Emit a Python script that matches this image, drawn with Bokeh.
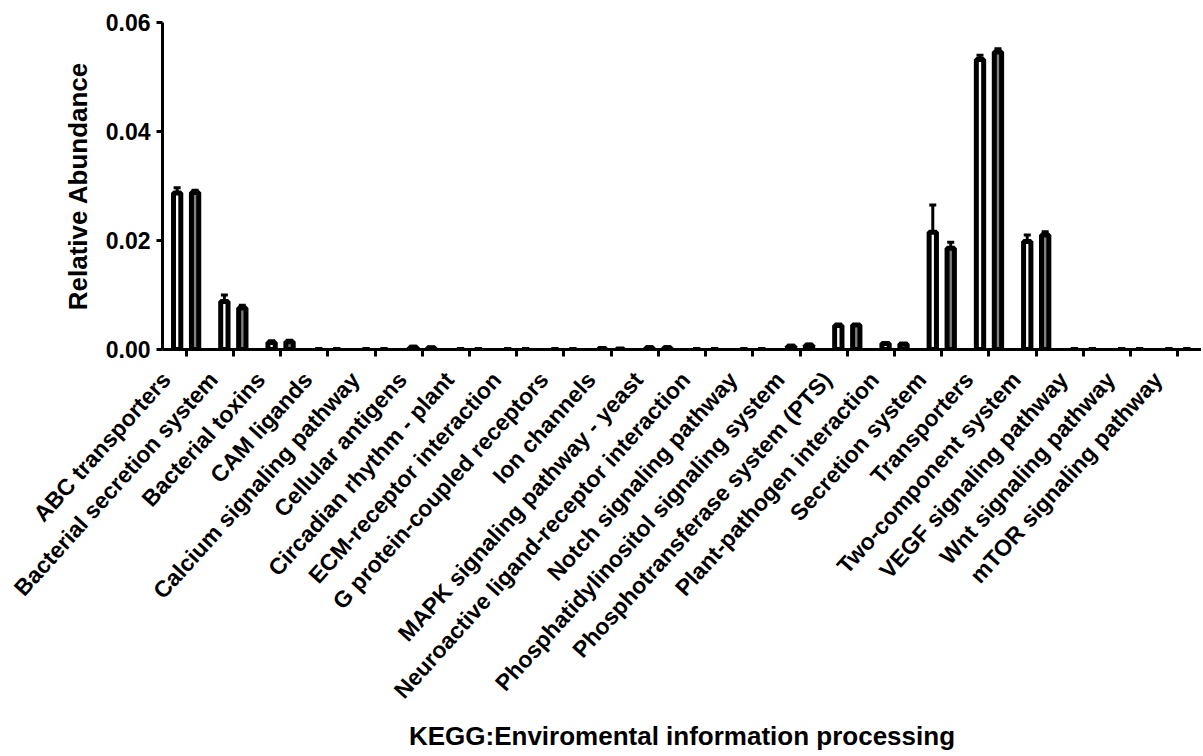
from bokeh.plotting import figure
from bokeh.models import (ColumnDataSource, FactorRange, Range1d, Whisker, TeeHead,
                          FixedTicker, NumeralTickFormatter, CustomLabelingPolicy, LinearAxis)
from bokeh.transform import dodge
from bokeh.embed import file_html
from bokeh.resources import INLINE

categories = [
    "ABC transporters", "Bacterial secretion system", "Bacterial toxins", "CAM ligands",
    "Calcium signaling pathway", "Cellular antigens", "Circadian rhythm - plant",
    "ECM-receptor interaction", "G protein-coupled receptors", "Ion channels",
    "MAPK signaling pathway - yeast", "Neuroactive ligand-receptor interaction",
    "Notch signaling pathway", "Phosphatidylinositol signaling system",
    "Phosphotransferase system (PTS)", "Plant-pathogen interaction", "Secretion system",
    "Transporters", "Two-component system", "VEGF signaling pathway",
    "Wnt signaling pathway", "mTOR signaling pathway",
]
group1 = [0.0287, 0.0088, 0.0013, 0.0, 0.0, 0.0004, 0.0, 0.0, 0.0, 0.0002,
          0.0003, 0.0, 0.0, 0.0006, 0.0044, 0.0011, 0.0215, 0.0532, 0.0198, 0.0, 0.0, 0.0]
group1_err = [0.0010, 0.0012, 0.0003, 0.0, 0.0, 0.0002, 0.0, 0.0, 0.0, 0.0001,
              0.0002, 0.0, 0.0, 0.0002, 0.0003, 0.0002, 0.0050, 0.0008, 0.0012, 0.0, 0.0, 0.0]
group2 = [0.0288, 0.0076, 0.0014, 0.0, 0.0, 0.0003, 0.0, 0.0, 0.0, 0.0001,
          0.0003, 0.0, 0.0, 0.0008, 0.0045, 0.0010, 0.0186, 0.0546, 0.0210, 0.0, 0.0, 0.0]
group2_err = [0.0004, 0.0005, 0.0003, 0.0, 0.0, 0.0001, 0.0, 0.0, 0.0, 0.0,
              0.0002, 0.0, 0.0, 0.0002, 0.0001, 0.0001, 0.0011, 0.0006, 0.0006, 0.0, 0.0, 0.0]
y_ticks = [0.0, 0.02, 0.04, 0.06]
x_title = "KEGG:Enviromental information processing"

FONT = "Liberation Sans"

LEFT, TOP, FRAME_W, FRAME_H = 162, 22, 1039, 327
UNIT = FRAME_W / len(categories)
LABEL_SHIFT_PX = 20   # slanted names end a little left of their tick

src = ColumnDataSource(dict(cat=categories, v1=group1, v2=group2))

p = figure(x_range=FactorRange(*categories), y_range=Range1d(0, 0.06),
           frame_width=FRAME_W, frame_height=FRAME_H,
           output_backend="svg", toolbar_location=None,
           min_border_left=LEFT, min_border_right=0, min_border_top=TOP,
           min_border_bottom=5)

bw = 0.155
off = 0.19
p.vbar(x=dodge("cat", -off, range=p.x_range), top="v1", width=bw, source=src,
       fill_color="white", line_color="black", line_width=5)
p.vbar(x=dodge("cat", off, range=p.x_range), top="v2", width=bw, source=src,
       fill_color="#808080", line_color="black", line_width=5)

for vals, errs, o in ((group1, group1_err, -off), (group2, group2_err, off)):
    idx = [i for i in range(len(categories)) if errs[i] > 0]
    es = ColumnDataSource(dict(cat=[categories[i] for i in idx],
                               lo=[vals[i] for i in idx],
                               hi=[vals[i] + errs[i] for i in idx]))
    w = Whisker(base=dodge("cat", o, range=p.x_range), lower="lo", upper="hi", source=es,
                line_width=3, line_color="black", lower_head=None,
                upper_head=TeeHead(size=7, line_width=3, line_color="black"))
    p.add_layout(w)

p.xgrid.visible = False
p.ygrid.visible = False
p.outline_line_color = None

for ax in (p.xaxis, p.yaxis):
    ax.axis_line_width = 3
    ax.axis_line_color = "black"
    ax.major_tick_line_width = 3
    ax.major_tick_line_color = "black"
    ax.major_tick_in = 0
    ax.minor_tick_line_color = None
    ax.major_label_text_font = FONT
    ax.major_label_text_font_style = "bold"
    ax.major_label_text_color = "black"
    ax.axis_label_text_font = FONT
    ax.axis_label_text_font_style = "bold"
    ax.axis_label_text_color = "black"

p.yaxis.ticker = FixedTicker(ticks=y_ticks)
p.yaxis.formatter = NumeralTickFormatter(format="0.00")
p.yaxis.major_tick_out = 6
p.yaxis.major_label_text_font_size = "23px"
p.yaxis.major_label_standoff = 6
p.yaxis.axis_label = "Relative Abundance"
p.yaxis.axis_label_text_font_size = "26px"
p.yaxis.axis_label_standoff = 10

# category axis: line and ticks only
xax = p.xaxis[0]
xax.major_tick_out = 7
xax.major_label_standoff = 0
xax.major_label_text_font_size = "1px"
xax.major_label_policy = CustomLabelingPolicy(code="return []")

# second axis below carries the slanted category names and the x title
shift = LABEL_SHIFT_PX / UNIT
label_ticks = [round(i + 0.5 - shift, 4) for i in range(len(categories))]
lab_ax = LinearAxis(ticker=FixedTicker(ticks=label_ticks),
                    major_label_overrides={t: c for t, c in zip(label_ticks, categories)},
                    axis_line_color=None, major_tick_line_color=None,
                    minor_tick_line_color=None, major_tick_in=0, major_tick_out=0,
                    major_label_orientation=0.838, major_label_standoff=15,
                    major_label_text_font=FONT, major_label_text_font_style="bold",
                    major_label_text_font_size="23px", major_label_text_color="black",
                    axis_label=x_title, axis_label_standoff=6,
                    axis_label_text_font=FONT, axis_label_text_font_style="bold",
                    axis_label_text_font_size="26px", axis_label_text_color="black")
p.add_layout(lab_ax, "below")

open("out.html", "w").write(file_html(p, INLINE))
